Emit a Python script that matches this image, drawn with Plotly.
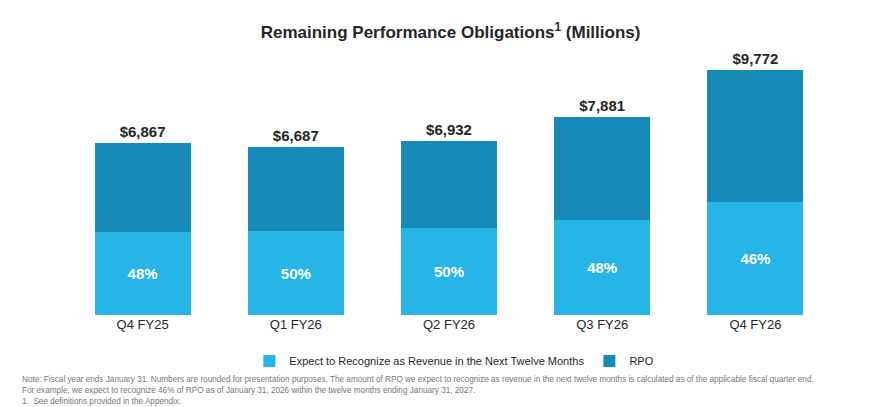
import plotly.graph_objects as go

categories = ["Q4 FY25", "Q1 FY26", "Q2 FY26", "Q3 FY26", "Q4 FY26"]
rpo_total = [6867, 6687, 6932, 7881, 9772]
ntm_pct = [48, 50, 50, 48, 46]

ntm_values = [t * p / 100 for t, p in zip(rpo_total, ntm_pct)]
rest_values = [t - n for t, n in zip(rpo_total, ntm_values)]

LIGHT = "#27B5E8"
DARK = "#178BB8"
FONT = "Liberation Sans, Arial, sans-serif"

fig = go.Figure()
fig.add_trace(go.Bar(
    x=categories, y=ntm_values,
    name="Expect to Recognize as Revenue in the Next Twelve Months",
    marker=dict(color=LIGHT, line=dict(width=0)),
    text=[f"<b>{p}%</b>" for p in ntm_pct],
    textposition="inside", insidetextanchor="middle",
    textfont=dict(color="white", size=15, family=FONT),
    hoverinfo="skip",
))
fig.add_trace(go.Bar(
    x=categories, y=rest_values,
    name="RPO",
    marker=dict(color=DARK, line=dict(width=0)),
    text=[f"<b>${t:,}</b>" for t in rpo_total],
    textposition="outside",
    textfont=dict(color="#262626", size=15, family=FONT),
    cliponaxis=False,
    hoverinfo="skip",
))

fig.update_layout(
    width=880, height=407,
    barmode="stack",
    bargap=0.373,
    plot_bgcolor="white", paper_bgcolor="white",
    margin=dict(l=66, r=48, t=60, b=92, autoexpand=False),
    font=dict(family=FONT, color="#262626"),
    title=dict(
        text="<b>Remaining Performance Obligations<sup>1</sup> (Millions)</b>",
        x=0.512, xanchor="center", y=0.922, yanchor="middle",
        font=dict(size=17, color="#262626", family=FONT),
    ),
    showlegend=True,
    legend=dict(
        orientation="h", x=0.507, xanchor="center", y=-0.18, yanchor="middle",
        traceorder="normal", font=dict(size=11, color="#262626", family=FONT),
    ),
    xaxis=dict(showgrid=False, showline=False, zeroline=False, ticks="",
               tickfont=dict(size=13, color="#262626", family=FONT)),
    yaxis=dict(range=[0, 10171], visible=False, showgrid=False),
)

notes = [
    "Note: Fiscal year ends January 31. Numbers are rounded for presentation purposes. The amount of RPO we expect to recognize as revenue in the next twelve months is calculated as of the applicable fiscal quarter end.",
    "For example, we expect to recognize 46% of RPO as of January 31, 2026 within the twelve months ending January 31, 2027.",
    "1.  See definitions provided in the Appendix.",
]
for i, line in enumerate(notes):
    fig.add_annotation(
        text=line, xref="paper", yref="paper",
        x=(20 - 66) / (880 - 66 - 48), xanchor="left",
        y=(315 - (379 + i * 11)) / 255, yanchor="middle",
        showarrow=False, font=dict(size=8.2, color="#777777", family=FONT),
    )

fig.write_html(
    "out.html",
    config={"displayModeBar": False},
    post_script="document.body.style.margin='0';document.body.style.padding='0';",
)
